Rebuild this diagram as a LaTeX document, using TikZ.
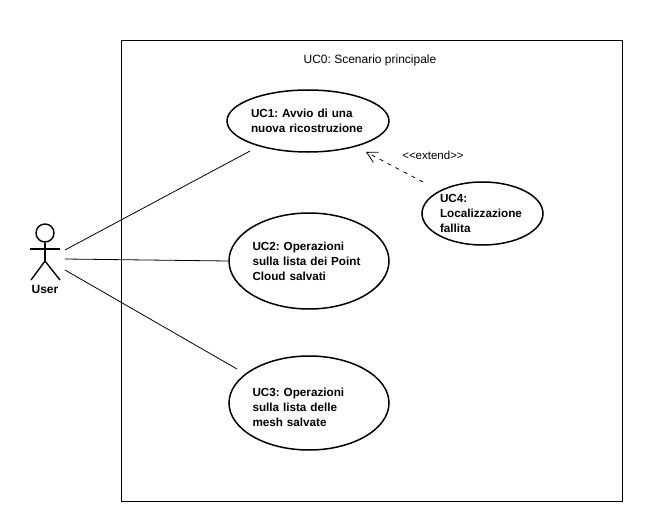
\documentclass[tikz,border=0pt]{standalone}
\usepackage{fontspec}
\setmainfont{Liberation Sans}
\usetikzlibrary{shapes.geometric, arrows.meta}
\tikzset{
	usecase/.style={draw, ellipse, line width=1.5pt, inner sep=0pt, align=left, font=\frenchspacing\fontsize{11.7}{15}\selectfont\bfseries},
	actorline/.style={line width=1.4pt},
	link/.style={line width=0.8pt},
	extendlink/.style={line width=0.8pt, dash pattern=on 4pt off 5pt, -{Straight Barb[length=10.5pt,width=11.5pt]}}
}

\begin{document}
\begin{tikzpicture}[x=1pt, y=-1pt]
	\useasboundingbox (0, 0) rectangle (654, 519);
	
	\node[draw, line width=0.8pt, minimum width=501pt, minimum height=461pt, inner sep=0pt] (scenario) at (371.5, 270.5) {};
	\node[font=\frenchspacing\fontsize{12}{14}\selectfont] (title) at (370, 60) {UC0: Scenario principale};
	
	\node[usecase, minimum width=162pt, minimum height=62pt, text width=114pt] (uc1) at (308, 121) {UC1: Avvio di una\\nuova ricostruzione};
	\node[usecase, minimum width=160pt, minimum height=96pt, text width=113pt] (uc2) at (309, 261) {UC2: Operazioni\\sulla lista dei Point\\Cloud salvati};
	\node[usecase, minimum width=160pt, minimum height=94pt, text width=113pt] (uc3) at (309, 403) {\rule{0pt}{18pt}UC3: Operazioni\\sulla lista delle\\mesh salvate};
	\node[usecase, minimum width=121pt, minimum height=63pt, text width=85pt] (uc4) at (482.5, 213.5) {UC4:\\Localizzazione\\fallita};
	
	% actor
	\node[draw, circle, line width=1.4pt, minimum size=18pt, inner sep=0pt] (head) at (45, 233) {};
	\coordinate (handL) at (30, 249);
	\coordinate (handR) at (60, 249);
	\coordinate (hip) at (45, 261);
	\coordinate (footL) at (31, 280);
	\coordinate (footR) at (60, 280);
	\draw[actorline] (head) -- (hip);
	\draw[actorline] (handL) -- (handR);
	\draw[actorline] (footL) -- (hip) -- (footR);
	\node[font=\fontsize{12}{14}\selectfont\bfseries] (user) at (45, 289) {User};
	
	% free ends near the actor and the use cases
	\coordinate (a1) at (65, 250);
	\coordinate (a2) at (65, 259);
	\coordinate (a3) at (65, 270);
	\coordinate (e1) at (250, 151);
	\coordinate (e3) at (237, 369);
	\coordinate (x1) at (423, 182);
	\coordinate (x2) at (366, 152);
	
	\draw[link] (a1) -- (e1);
	\draw[link] (a2) -- (uc2.west);
	\draw[link] (a3) -- (e3);
	\draw[extendlink] (x1) -- (x2);
	\node[font=\fontsize{11.5}{13}\selectfont] (extend) at (433, 155) {<{}<extend>{}>};
\end{tikzpicture}
\end{document}
